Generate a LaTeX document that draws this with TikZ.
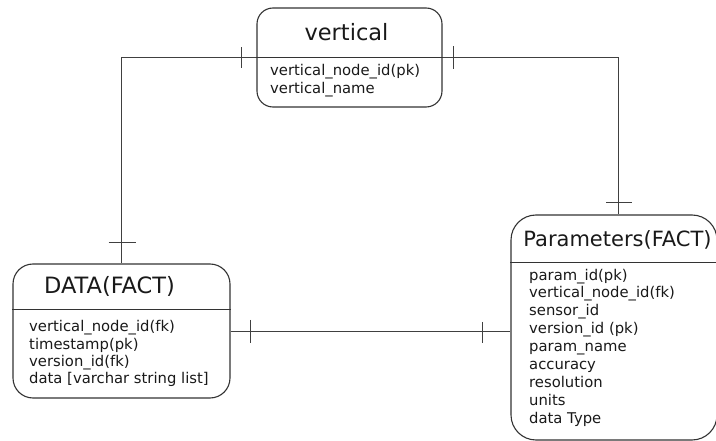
\documentclass[tikz,border=0pt]{standalone}
\usepackage{fontspec}
\setmainfont{DejaVu Sans}
\definecolor{boxc}{HTML}{333333}
\definecolor{linkc}{HTML}{404040}
\begin{document}
\begin{tikzpicture}[x=1pt,y=-1pt,
  entbox/.style={draw=boxc, line width=1.1pt, inner sep=0pt, rectangle},
  divider/.style={draw=boxc, line width=0.8pt},
  link/.style={draw=linkc, line width=0.9pt},
  tickmark/.style={draw=linkc, line width=0.9pt},
  ttl/.style={font=\fontsize{22.5}{27}\selectfont, inner sep=0pt, anchor=base, text=black!90},
  attr/.style={font=\fontsize{14.8}{18}\selectfont, inner sep=0pt, anchor=base west, text=black!90},
]
\useasboundingbox (0,0) rectangle (716,441);
\clip (0,0) rectangle (716,441);

% entity boxes
\node[entbox, rounded corners=16pt, minimum width=185pt, minimum height=99pt] (vert) at (349.5,57.5) {};
\node[entbox, rounded corners=20pt, minimum width=217pt, minimum height=134pt] (data) at (121.5,331) {};
\node[entbox, rounded corners=25pt, minimum width=206pt, minimum height=225pt] (params) at (614,327.5) {};

% dividers
\draw[divider] (vert.west) -- (vert.east);
\draw[divider] ([yshift=22pt]data.west) -- ([yshift=22pt]data.east);
\draw[divider] ([yshift=65.5pt]params.west) -- ([yshift=65.5pt]params.east);

% connectors
\coordinate (ptop) at ([xshift=4pt]params.north);
\draw[link] (vert.west) -| (data.north);
\draw[link] (vert.east) -| (ptop);
\draw[link] (data.east) -- (data.east -| params.west);

% one-bars
\draw[tickmark] ([xshift=-15pt,yshift=10pt]vert.west) -- ([xshift=-15pt,yshift=-11pt]vert.west);
\draw[tickmark] ([xshift=11pt,yshift=11pt]vert.east) -- ([xshift=11pt,yshift=-12pt]vert.east);
\draw[tickmark] ([xshift=-13pt,yshift=21pt]data.north) -- ([xshift=14pt,yshift=21pt]data.north);
\draw[tickmark] ([xshift=-12pt,yshift=12pt]ptop) -- ([xshift=14pt,yshift=12pt]ptop);
\draw[tickmark] ([xshift=20pt,yshift=11pt]data.east) -- ([xshift=20pt,yshift=-12pt]data.east);
\draw[tickmark] ([xshift=-28pt,yshift=9pt]data.east -| params.west) -- ([xshift=-28pt,yshift=-12pt]data.east -| params.west);

% titles
\node[ttl] (vt) at (346.5,40.5) {vertical};
\node[ttl] (dt) at (109.5,294) {DATA(FACT)};
\node[ttl, font=\fontsize{21}{25}\selectfont] (ptt) at (617.5,246.5) {Parameters(FACT)};

% attributes: vertical
\node[attr] (v1) at (270,76) {vertical\_node\_id(pk)};
\node[attr] (v2) at (270,94) {vertical\_name};

% attributes: data
\node[attr] (d1) at (29,331.5) {vertical\_node\_id(fk)};
\node[attr] (d2) at (29,349) {timestamp(pk)};
\node[attr] (d3) at (29,366.5) {version\_id(fk)};
\node[attr] (d4) at (29,384) {data [varchar string list]};

% attributes: parameters
\node[attr] (p1) at (529,280) {param\_id(pk)};
\node[attr] (p2) at (529,297.9) {vertical\_node\_id(fk)};
\node[attr] (p3) at (529,315.8) {sensor\_id};
\node[attr] (p4) at (529,333.7) {version\_id (pk)};
\node[attr] (p5) at (529,351.6) {param\_name};
\node[attr] (p6) at (529,369.5) {accuracy};
\node[attr] (p7) at (529,387.4) {resolution};
\node[attr] (p8) at (529,405.3) {units};
\node[attr] (p9) at (529,423.2) {data Type};
\end{tikzpicture}
\end{document}
